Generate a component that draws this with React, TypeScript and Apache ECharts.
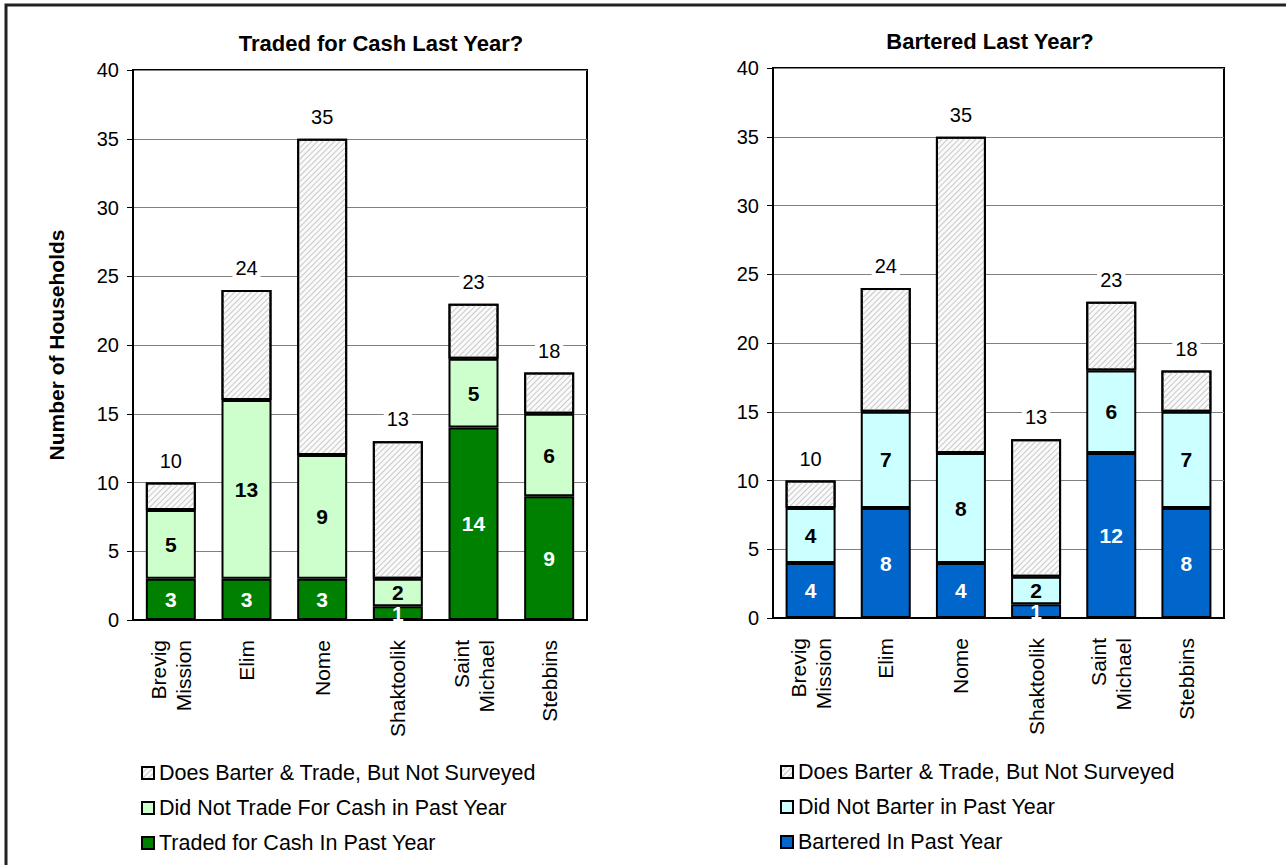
import React, { useEffect, useRef } from 'react';
import * as echarts from 'echarts';

const categories = ['Brevig\nMission', 'Elim', 'Nome', 'Shaktoolik', 'Saint\nMichael', 'Stebbins'];

const cashTraded = [3, 3, 3, 1, 14, 9];
const cashNotTraded = [5, 13, 9, 2, 5, 6];
const cashNotSurveyed = [2, 8, 23, 10, 4, 3];

const barterDid = [4, 8, 4, 1, 12, 8];
const barterNot = [4, 7, 8, 2, 6, 7];
const barterNotSurveyed = [2, 9, 23, 10, 5, 3];

const yMin = 0;
const yMax = 40;
const yInterval = 5;

const leftTitle = 'Traded for Cash Last Year?';
const rightTitle = 'Bartered Last Year?';
const yAxisName = 'Number of Households';

const nameNotSurveyed = 'Does Barter & Trade, But Not Surveyed';
const nameCashNot = 'Did Not Trade For Cash in Past Year';
const nameCashDid = 'Traded for Cash In Past Year';
const nameBarterNot = 'Did Not Barter in Past Year';
const nameBarterDid = 'Bartered In Past Year';

const FONT = 'Liberation Sans, Arial, Helvetica, sans-serif';

function sum(...arrs: number[][]) {
  return arrs[0].map((_, i) => arrs.reduce((s, a) => s + a[i], 0));
}

export default function App() {
  const ref = useRef<HTMLDivElement>(null);
  useEffect(() => {
    document.body.style.margin = '0';
    const chart = echarts.init(ref.current as HTMLDivElement, null, { renderer: 'svg' });

    const cashTotals = sum(cashTraded, cashNotTraded, cashNotSurveyed);
    const barterTotals = sum(barterDid, barterNot, barterNotSurveyed);

    const hatch = {
      color: '#fafafa',
      borderColor: '#000',
      borderWidth: 2,
      decal: {
        symbol: 'rect',
        symbolSize: 1,
        dashArrayX: [1, 0],
        dashArrayY: [1, 3],
        rotation: -Math.PI / 4,
        color: '#c8c8c8',
      },
    };

    const innerLabel = (color: string) => ({
      show: true,
      position: 'inside',
      color,
      fontWeight: 'bold',
      fontSize: 21,
      fontFamily: FONT,
    });

    const totalLabel = (totals: number[]) => ({
      show: true,
      position: 'top',
      distance: 11,
      formatter: (p: any) => String(totals[p.dataIndex]),
      color: '#000',
      fontSize: 20,
      fontFamily: FONT,
      backgroundColor: '#ffffff',
      padding: [1, 3],
    });

    const xAxis = (gridIndex: number) => ({
      type: 'category',
      gridIndex,
      data: categories,
      axisLine: { show: true, lineStyle: { color: '#000', width: 2 } },
      axisTick: { show: false },
      axisLabel: {
        rotate: 90,
        margin: 20,
        color: '#000',
        fontSize: 21,
        lineHeight: 25,
        fontFamily: FONT,
        interval: 0,
      },
    });

    const yAxis = (gridIndex: number, withName: boolean) => ({
      type: 'value',
      gridIndex,
      min: yMin,
      max: yMax,
      interval: yInterval,
      name: withName ? yAxisName : '',
      nameLocation: 'middle',
      nameRotate: 90,
      nameGap: 66,
      nameTextStyle: { fontSize: 21, fontWeight: 'bold', color: '#000', fontFamily: FONT },
      axisLine: { show: true, lineStyle: { color: '#000', width: 2 } },
      axisTick: { show: true, length: 6, lineStyle: { color: '#000', width: 1 } },
      axisLabel: { color: '#000', fontSize: 20, margin: 14, fontFamily: FONT },
      splitLine: { show: true, lineStyle: { color: '#808080', width: 1 } },
    });

    const legendBase = {
      orient: 'vertical',
      icon: 'rect',
      itemWidth: 12,
      itemHeight: 12,
      itemGap: 13,
      selectedMode: false,
      itemStyle: { borderColor: '#000', borderWidth: 2 },
      textStyle: { fontSize: 21.5, color: '#000', fontFamily: FONT, lineHeight: 21 },
    };

    const option: any = {
      animation: false,
      backgroundColor: '#ffffff',
      textStyle: { fontFamily: FONT },
      graphic: [
        {
          type: 'rect',
          shape: { x: 6, y: 5, width: 1300, height: 900 },
          style: { fill: 'none', stroke: '#222', lineWidth: 3 },
          silent: true,
        },
      ],
      title: [
        {
          text: leftTitle,
          left: 376,
          top: 27,
          textAlign: 'center',
          textStyle: { fontSize: 22, fontWeight: 'bold', color: '#000', fontFamily: FONT },
        },
        {
          text: rightTitle,
          left: 985,
          top: 25,
          textAlign: 'center',
          textStyle: { fontSize: 22, fontWeight: 'bold', color: '#000', fontFamily: FONT },
        },
      ],
      grid: [
        { left: 133, right: 1286 - 587, top: 70, bottom: 865 - 620, show: true, borderColor: '#000', borderWidth: 2, containLabel: false },
        { left: 773, right: 1286 - 1224, top: 68, bottom: 865 - 618, show: true, borderColor: '#000', borderWidth: 2, containLabel: false },
      ],
      xAxis: [xAxis(0), xAxis(1)],
      yAxis: [yAxis(0, true), yAxis(1, false)],
      legend: [
        { ...legendBase, left: 136, top: 757, data: [nameNotSurveyed, nameCashNot, nameCashDid] },
        { ...legendBase, left: 775, top: 756, data: [nameNotSurveyed, nameBarterNot, nameBarterDid] },
      ],
      series: [
        {
          name: nameCashDid,
          type: 'bar',
          stack: 'cash',
          xAxisIndex: 0,
          yAxisIndex: 0,
          barWidth: 50,
          data: cashTraded,
          itemStyle: { color: '#008000', borderColor: '#000', borderWidth: 2 },
          label: innerLabel('#ffffff'),
        },
        {
          name: nameCashNot,
          type: 'bar',
          stack: 'cash',
          xAxisIndex: 0,
          yAxisIndex: 0,
          barWidth: 50,
          data: cashNotTraded,
          itemStyle: { color: '#CCFFCC', borderColor: '#000', borderWidth: 2 },
          label: innerLabel('#000000'),
        },
        {
          name: nameNotSurveyed,
          type: 'bar',
          stack: 'cash',
          xAxisIndex: 0,
          yAxisIndex: 0,
          barWidth: 50,
          data: cashNotSurveyed,
          itemStyle: hatch,
          label: totalLabel(cashTotals),
        },
        {
          name: nameBarterDid,
          type: 'bar',
          stack: 'barter',
          xAxisIndex: 1,
          yAxisIndex: 1,
          barWidth: 50,
          data: barterDid,
          itemStyle: { color: '#0066CC', borderColor: '#000', borderWidth: 2 },
          label: innerLabel('#ffffff'),
        },
        {
          name: nameBarterNot,
          type: 'bar',
          stack: 'barter',
          xAxisIndex: 1,
          yAxisIndex: 1,
          barWidth: 50,
          data: barterNot,
          itemStyle: { color: '#CCFFFF', borderColor: '#000', borderWidth: 2 },
          label: innerLabel('#000000'),
        },
        {
          name: nameNotSurveyed,
          type: 'bar',
          stack: 'barter',
          xAxisIndex: 1,
          yAxisIndex: 1,
          barWidth: 50,
          data: barterNotSurveyed,
          itemStyle: hatch,
          label: totalLabel(barterTotals),
        },
      ],
    };

    chart.setOption(option);
    return () => chart.dispose();
  }, []);
  return <div ref={ref} style={{ width: 1286, height: 865 }} />;
}
